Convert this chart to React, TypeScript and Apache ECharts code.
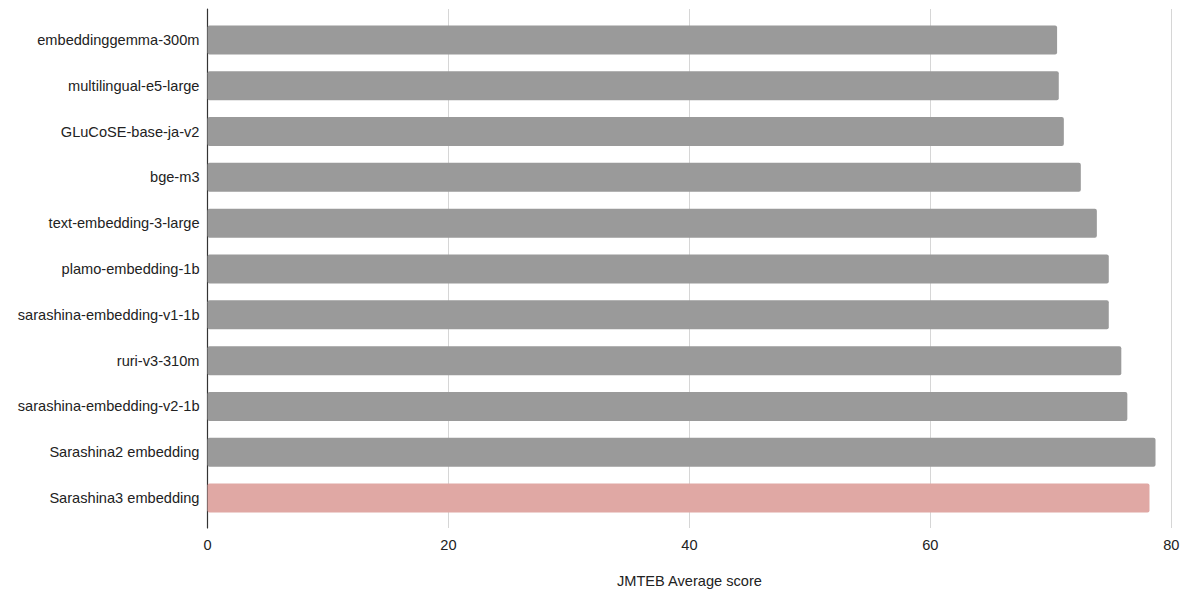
import React, { useEffect, useRef } from "react";
import * as echarts from "echarts";

const categories = [
  "embeddinggemma-300m",
  "multilingual-e5-large",
  "GLuCoSE-base-ja-v2",
  "bge-m3",
  "text-embedding-3-large",
  "plamo-embedding-1b",
  "sarashina-embedding-v1-1b",
  "ruri-v3-310m",
  "sarashina-embedding-v2-1b",
  "Sarashina2 embedding",
  "Sarashina3 embedding",
];
const scores = [70.52, 70.66, 71.08, 72.49, 73.82, 74.81, 74.81, 75.85, 76.35, 78.69, 78.19];
const highlighted = ["Sarashina3 embedding"];
const xTicks = [0, 20, 40, 60, 80];

const FONT = "'Liberation Sans', Arial, Helvetica, sans-serif";

export default function App() {
  const ref = useRef<HTMLDivElement>(null);
  useEffect(() => {
    document.body.style.margin = "0";
    if (!ref.current) return;
    const chart = echarts.init(ref.current, null, { renderer: "svg" });
    const xMin = xTicks[0];
    const xMax = xTicks[xTicks.length - 1];
    const step = xTicks[1] - xTicks[0];
    chart.setOption({
      animation: false,
      backgroundColor: "#ffffff",
      textStyle: { fontFamily: FONT },
      grid: [
        { left: 207.5, right: 28.7, top: 17, bottom: 91 },
        { left: 207.5, right: 28.7, top: 9, bottom: 84 },
      ],
      xAxis: [
        {
          gridIndex: 0,
          type: "value",
          min: xMin,
          max: xMax,
          interval: step,
          show: false,
        },
        {
          gridIndex: 1,
          type: "value",
          min: xMin,
          max: xMax,
          interval: step,
          axisLine: { show: false },
          axisTick: { show: false },
          splitLine: { show: true, lineStyle: { color: "#d6d6d6", width: 1 } },
          axisLabel: { color: "#222222", fontSize: 14.6, margin: 9, fontFamily: FONT },
          name: "JMTEB Average score",
          nameLocation: "middle",
          nameGap: 45,
          nameTextStyle: { color: "#222222", fontSize: 14.6, fontFamily: FONT },
        },
      ],
      yAxis: [
        {
          gridIndex: 0,
          type: "category",
          data: categories,
          inverse: true,
          axisLine: { show: false },
          axisTick: { show: false },
          axisLabel: { color: "#222222", fontSize: 14.6, margin: 8, fontFamily: FONT },
        },
        {
          gridIndex: 1,
          type: "value",
          min: 0,
          max: 1,
          axisLine: { show: true, onZero: false, lineStyle: { color: "#333333", width: 1.2 } },
          axisTick: { show: false },
          axisLabel: { show: false },
          splitLine: { show: false },
        },
      ],
      series: [
        {
          type: "bar",
          xAxisIndex: 0,
          yAxisIndex: 0,
          barWidth: 29,
          data: categories.map((c, i) => ({
            value: scores[i],
            itemStyle: {
              color: highlighted.includes(c) ? "#e0a8a4" : "#9a9a9a",
              borderRadius: 2,
            },
          })),
        },
      ],
    });
    return () => chart.dispose();
  }, []);
  return <div ref={ref} style={{ width: 1200, height: 612 }} />;
}
